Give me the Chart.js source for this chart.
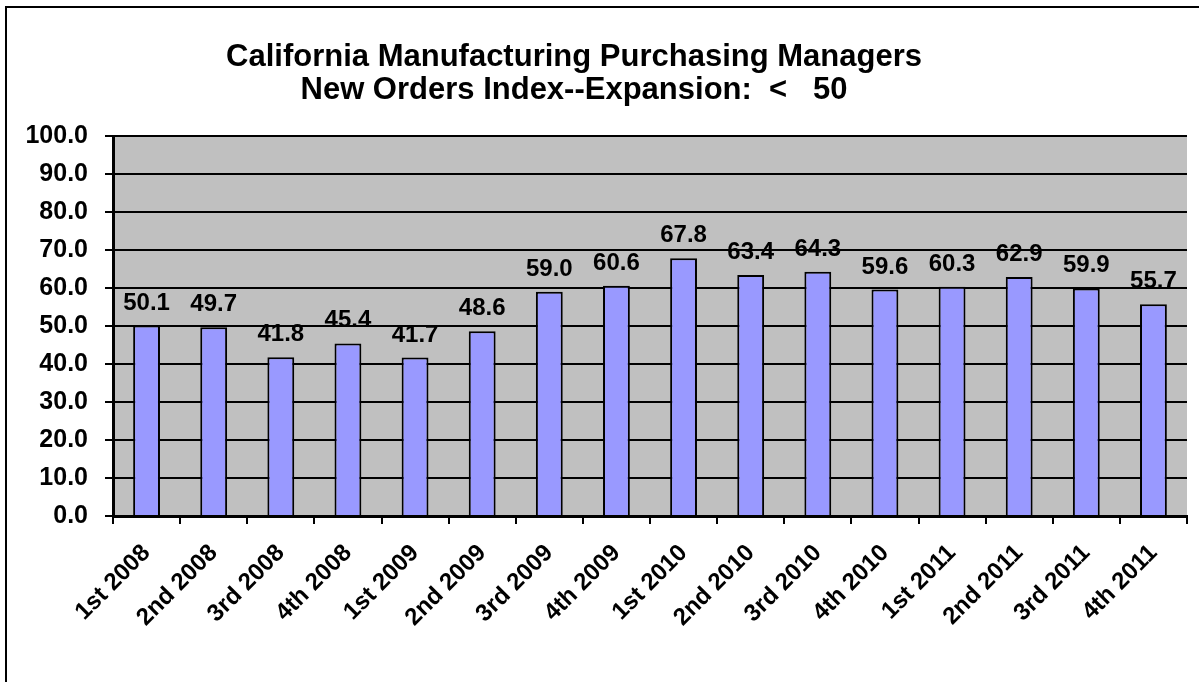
<!DOCTYPE html>
<html>
<head>
<meta charset="utf-8">
<script src="https://cdn.jsdelivr.net/npm/chart.js@4/dist/chart.umd.min.js"></script>
<style>
  html, body { margin: 0; padding: 0; background: #fff; }
  #wrap { position: relative; width: 1199px; height: 682px; }
</style>
</head>
<body>
<div id="wrap"><canvas id="chart" width="1199" height="682"></canvas></div>
<script>
/* -------------------------------------------------- */
/* Data                                                */
/* -------------------------------------------------- */

const QUARTERS = [
  '1st 2008', '2nd 2008', '3rd 2008', '4th 2008',
  '1st 2009', '2nd 2009', '3rd 2009', '4th 2009',
  '1st 2010', '2nd 2010', '3rd 2010', '4th 2010',
  '1st 2011', '2nd 2011', '3rd 2011', '4th 2011',
];
const NEW_ORDERS = [
  50.1, 49.7, 41.8, 45.4,
  41.7, 48.6, 59.0, 60.6,
  67.8, 63.4, 64.3, 59.6,
  60.3, 62.9, 59.9, 55.7,
];
const TITLE_LINES = [
  'California Manufacturing Purchasing Managers',
  'New Orders Index--Expansion:  <   50',
];

const FONT = "'Liberation Sans', Arial, sans-serif";

// Frame, grey plot background and the two title lines
const backdrop = {
  id: 'backdrop',
  beforeDraw(chart) {
    const { ctx, chartArea: a } = chart;
    ctx.save();
    ctx.fillStyle = '#fff';
    ctx.fillRect(0, 0, chart.width, chart.height);
    ctx.fillStyle = '#c0c0c0';
    ctx.fillRect(a.left, a.top, a.right - a.left, a.bottom - a.top);
    ctx.strokeStyle = '#000';
    ctx.lineWidth = 2;
    ctx.beginPath();
    ctx.moveTo(6, chart.height + 5);
    ctx.lineTo(6, 7);
    ctx.lineTo(chart.width + 5, 7);
    ctx.stroke();

    ctx.fillStyle = '#000';
    ctx.font = 'bold 31px ' + FONT;
    ctx.textAlign = 'center';
    ctx.textBaseline = 'alphabetic';
    ctx.fillText(TITLE_LINES[0], 574, 66);
    ctx.fillText(TITLE_LINES[1], 574, 99);
    ctx.restore();
  },
};

// Value labels above each bar
const valueLabels = {
  id: 'valueLabels',
  afterDatasetsDraw(chart) {
    const { ctx } = chart;
    const meta = chart.getDatasetMeta(0);
    ctx.save();
    ctx.fillStyle = '#000';
    ctx.font = 'bold 24px ' + FONT;
    ctx.textAlign = 'center';
    ctx.textBaseline = 'alphabetic';
    meta.data.forEach((bar, i) => {
      ctx.fillText(NEW_ORDERS[i].toFixed(1), bar.x, bar.y - 16);
    });
    ctx.restore();
  },
};

Chart.defaults.font.family = FONT;
Chart.defaults.color = '#000';

new Chart(document.getElementById('chart').getContext('2d'), {
  type: 'bar',
  data: {
    labels: QUARTERS,
    datasets: [{
      data: NEW_ORDERS,
      backgroundColor: '#9999ff',
      borderColor: '#000',
      borderWidth: 2,
      borderSkipped: 'bottom',
      categoryPercentage: 1,
      barPercentage: 0.4,
    }],
  },
  options: {
    responsive: false,
    animation: false,
    layout: { padding: { top: 136, right: 12, left: 0, bottom: 0 } },
    plugins: {
      legend: { display: false },
      tooltip: { enabled: false },
    },
    scales: {
      y: {
        min: 0,
        max: 100,
        ticks: {
          stepSize: 10,
          font: { size: 25, weight: 'bold' },
          padding: 17,
          callback: v => v.toFixed(1),
        },
        grid: { color: '#000', lineWidth: 2, tickLength: 8 },
        border: { color: '#000', width: 3 },
        afterFit: s => { s.width = 113; },
      },
      x: {
        offset: true,
        ticks: {
          font: { size: 24, weight: 'bold' },
          maxRotation: 45,
          minRotation: 45,
          padding: 15,
        },
        grid: { offset: true, drawOnChartArea: false, color: '#000', lineWidth: 2, tickLength: 8 },
        border: { color: '#000', width: 3 },
        afterFit: s => { s.height = 682 - 516; },
      },
    },
  },
  plugins: [backdrop, valueLabels],
});
</script>
</body>
</html>
